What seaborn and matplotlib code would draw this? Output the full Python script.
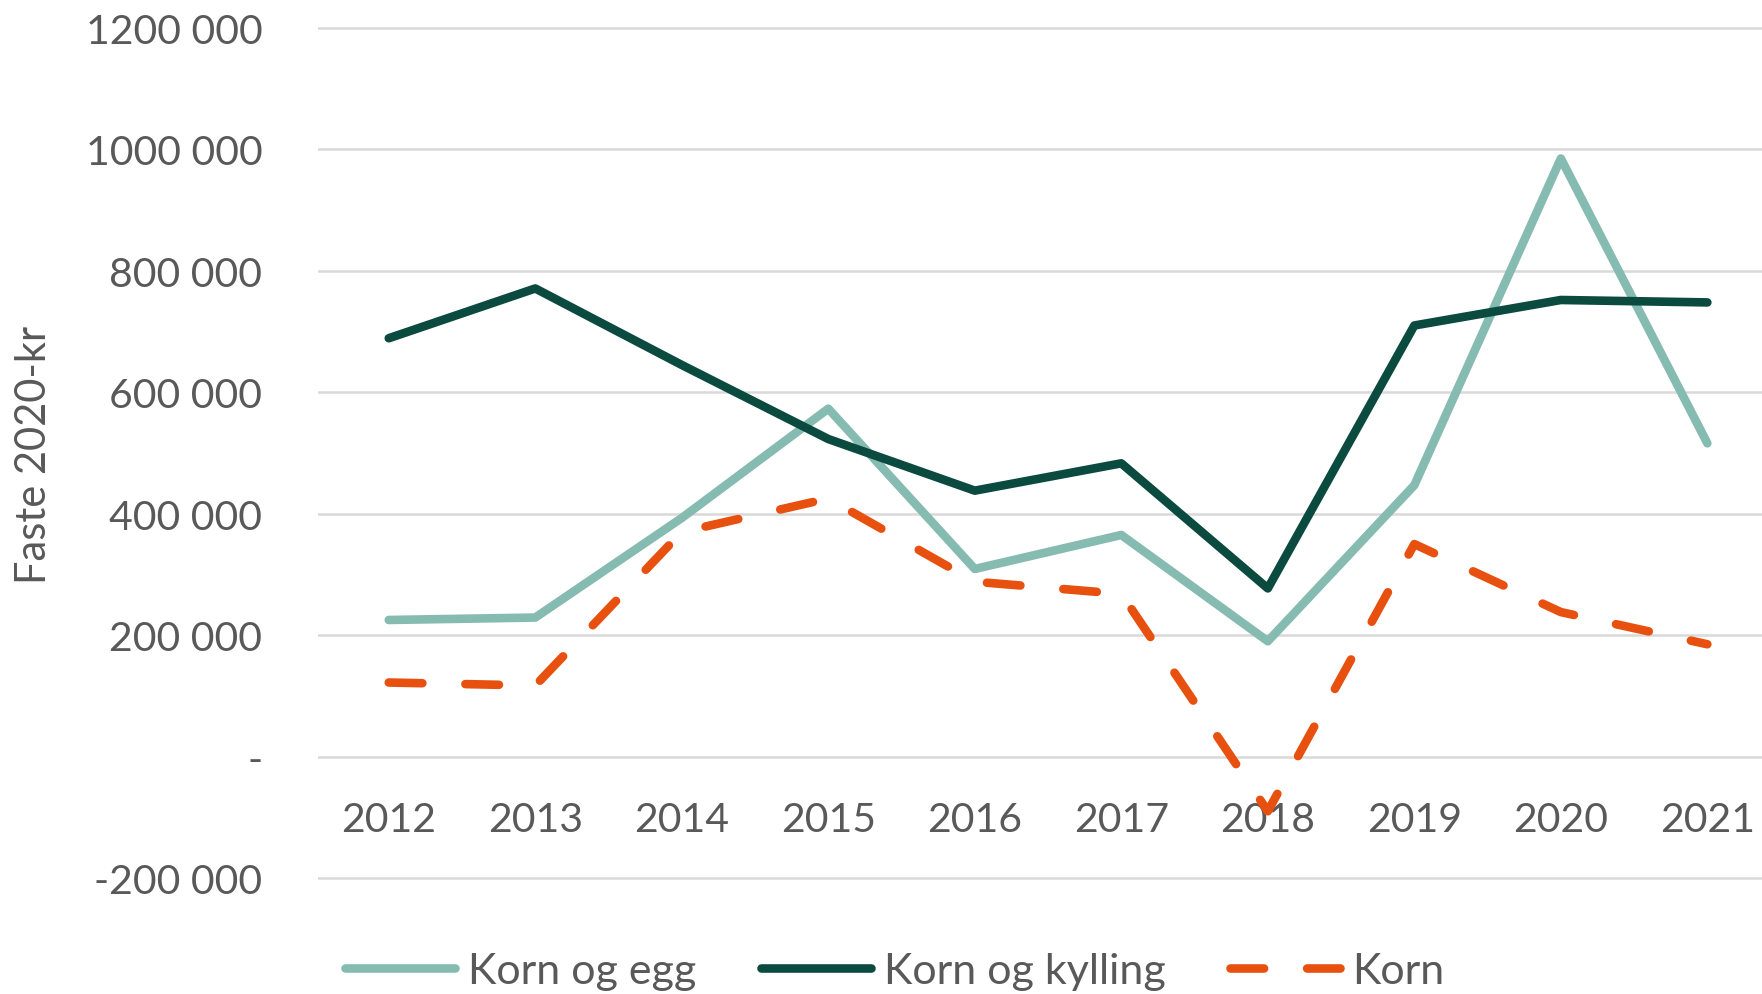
import matplotlib
matplotlib.use('Agg')
import matplotlib.pyplot as plt
import seaborn as sns
import pandas as pd

# Data
years = ['2012', '2013', '2014', '2015', '2016', '2017', '2018', '2019', '2020', '2021']
korn_og_egg = [225000, 229000, 393000, 573000, 309000, 365000, 190000, 447000, 985000, 516000]
korn_og_kylling = [689000, 771000, 645000, 523000, 438000, 483000, 277000, 710000, 752000, 748000]
korn = [122000, 117000, 370000, 425000, 288000, 268000, -90000, 350000, 238000, 185000]

series_names = ['Korn og egg', 'Korn og kylling', 'Korn']
colors = {'Korn og egg': '#86BBB1', 'Korn og kylling': '#0B4A3F', 'Korn': '#E8500F'}
y_ticks = [-200000, 0, 200000, 400000, 600000, 800000, 1000000, 1200000]

df = pd.DataFrame({
    'pos': list(range(len(years))) * 3,
    'value': korn_og_egg + korn_og_kylling + korn,
    'serie': [n for n in series_names for _ in years],
})

sns.set_theme(style='white')
plt.rcParams['font.family'] = ['Lato', 'DejaVu Sans']
text_color = '#595959'


def fmt_kr(v, pos=None):
    if v == 0:
        return '-'
    sign = '-' if v < 0 else ''
    v = int(round(abs(v)))
    return '{}{} {:03d}'.format(sign, v // 1000, v % 1000)


W, H = 1762, 995
fig = plt.figure(figsize=(W / 100, H / 100), dpi=100)

# axes placed so that the grid lines land where they are in the reference
ax_left, ax_right = 318, 1762
ax_top, ax_bottom = 22.9, 885.1
ax = fig.add_axes([ax_left / W, 1 - ax_bottom / H, (ax_right - ax_left) / W, (ax_bottom - ax_top) / H])

lw = 6.2
for name in series_names:
    d = df[df['serie'] == name]
    kw = dict(solid_capstyle='round', solid_joinstyle='round')
    if name == 'Korn':
        kw = dict(linestyle=(0, (3.9, 5.0)), dash_capstyle='round', dash_joinstyle='round')
    sns.lineplot(data=d, x='pos', y='value', color=colors[name], lw=lw, ax=ax, label=name, **kw)

ax.set_xlim(-0.483, 9.373)
ax.set_ylim(-210000, 1210000)
ax.set_yticks(y_ticks)
ax.set_yticklabels([fmt_kr(v) for v in y_ticks])
ax.set_xticks(range(len(years)))
ax.set_xticklabels(years)
ax.set_xlabel('')
ax.set_ylabel('')

for s in ax.spines.values():
    s.set_visible(False)
ax.spines['bottom'].set_position(('data', 0))

ax.yaxis.grid(True, color='#D9D9D9', lw=1.8)
ax.xaxis.grid(False)
ax.set_axisbelow(True)
ax.tick_params(axis='y', length=0, pad=40, labelsize=29.5, labelcolor=text_color)
ax.tick_params(axis='x', length=0, pad=32, labelsize=29.5, labelcolor=text_color)

fig.text(34 / W, 1 - 455 / H, 'Faste 2020-kr', rotation=90, ha='center', va='center',
         fontsize=30, color=text_color)

leg = ax.legend(loc='center', bbox_to_anchor=(0.508, 0.023), bbox_transform=fig.transFigure,
                ncol=3, frameon=False, handlelength=2.55, handletextpad=0.3,
                columnspacing=1.5, fontsize=31)
for t in leg.get_texts():
    t.set_color(text_color)

fig.savefig('out.png', dpi=100)
